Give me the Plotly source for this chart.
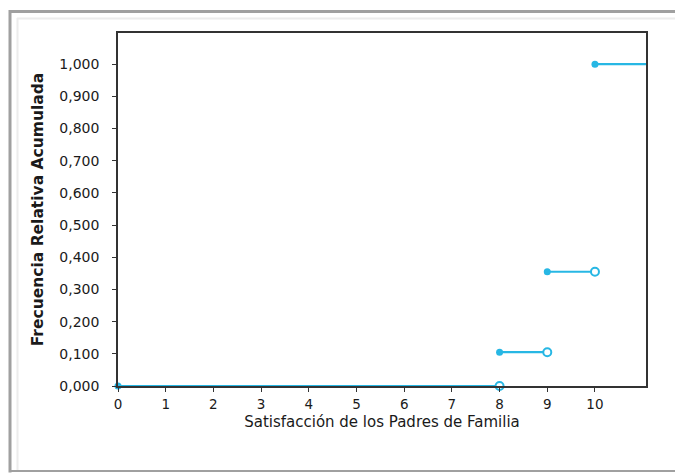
import plotly.graph_objects as go

# Data
x_start = [0, 8, 9, 10]
x_end = [8, 9, 10, 11.07]
y_vals = [0.0, 0.105, 0.355, 1.0]
open_end = [True, True, True, False]
x_ticks = [0, 1, 2, 3, 4, 5, 6, 7, 8, 9, 10]
y_ticks = [0.0, 0.1, 0.2, 0.3, 0.4, 0.5, 0.6, 0.7, 0.8, 0.9, 1.0]
x_title = "Satisfacción de los Padres de Familia"
y_title = "Frecuencia Relativa Acumulada"

color = "#27b7e4"

lx, ly = [], []
for xs, xe, yv in zip(x_start, x_end, y_vals):
    lx += [xs, xe, None]
    ly += [yv, yv, None]

fig = go.Figure()
fig.add_trace(go.Scatter(x=lx, y=ly, mode="lines",
                         line=dict(color=color, width=2.2),
                         hoverinfo="skip", showlegend=False, cliponaxis=False))
fig.add_trace(go.Scatter(x=x_start, y=y_vals, mode="markers",
                         marker=dict(color=color, size=7, symbol="circle"),
                         showlegend=False, cliponaxis=False))
ox = [xe for xe, o in zip(x_end, open_end) if o]
oy = [yv for yv, o in zip(y_vals, open_end) if o]
fig.add_trace(go.Scatter(x=ox, y=oy, mode="markers",
                         marker=dict(color="white", size=8, symbol="circle",
                                     line=dict(color=color, width=2)),
                         showlegend=False, cliponaxis=False))

OFF = 8  # page body margin
W, H = 683 - OFF, 473 - OFF
L, R, T, B = 118 - OFF, 646 - OFF, 33 - OFF, 386 - OFF

def px(x):
    return (x - OFF - L) / (R - L)

def py(y):
    return (B - (y - OFF)) / (B - T)

shapes = [
    dict(type="line", xref="paper", yref="paper", x0=px(10), x1=px(700), y0=py(11.5), y1=py(11.5),
         line=dict(color="#a0a0a0", width=3)),
    dict(type="line", xref="paper", yref="paper", x0=px(10), x1=px(10), y0=py(10), y1=py(472.5),
         line=dict(color="#a0a0a0", width=3)),
    dict(type="line", xref="paper", yref="paper", x0=px(10), x1=px(700), y0=py(471), y1=py(471),
         line=dict(color="#a0a0a0", width=2)),
    dict(type="line", xref="paper", yref="paper", x0=px(17), x1=px(700), y0=py(18.5), y1=py(18.5),
         line=dict(color="#ececec", width=2)),
    dict(type="line", xref="paper", yref="paper", x0=px(17.5), x1=px(17.5), y0=py(18), y1=py(470),
         line=dict(color="#ececec", width=2)),
]

fig.update_layout(
    width=W, height=H,
    margin=dict(l=L, r=W - R, t=T, b=H - B),
    paper_bgcolor="white", plot_bgcolor="white",
    separators=",.",
    font=dict(family="DejaVu Sans, Arial, sans-serif", size=12, color="#1a1a1a"),
    shapes=shapes,
    xaxis=dict(range=[0, 11.07], tickvals=x_ticks, ticks="outside", ticklen=4,
               tickcolor="#333", showline=True, linecolor="#333", linewidth=1.5,
               mirror=True, showgrid=False, zeroline=False, ticklabelstandoff=1,
               tickfont=dict(size=13.5, color="#1a1a1a"),
               title=dict(text=x_title, font=dict(size=15, color="#1a1a1a"), standoff=6)),
    yaxis=dict(range=[0, 1.097], tickvals=y_ticks, tickformat=".3f", ticks="outside",
               ticklen=4, tickcolor="#333", showline=True, linecolor="#333",
               linewidth=1.5, mirror=True, showgrid=False, zeroline=False,
               ticklabelstandoff=10,
               tickfont=dict(size=14, color="#1a1a1a"),
               title=dict(text="<b>" + y_title + "</b>", font=dict(size=15.5, color="#1a1a1a"),
                          standoff=12)),
)

fig.write_html("out.html")
